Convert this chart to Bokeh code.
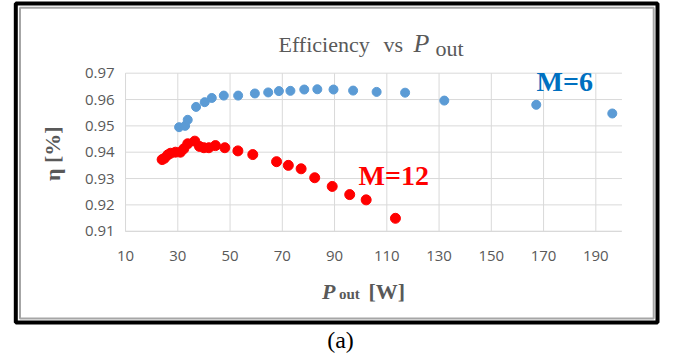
from bokeh.plotting import figure
from bokeh.models import Label, BoxAnnotation, Range1d, FixedTicker
from bokeh.embed import file_html
from bokeh.resources import INLINE
import math

# ---- data ----
m6_pout = [30.5, 32.8, 33.8, 37.0, 40.3, 43.0, 47.6, 53.1, 59.5, 64.6, 68.7,
           73.1, 78.4, 83.4, 89.6, 97.1, 106.1, 117.0, 132.0, 167.2, 196.3]
m6_eff = [0.9495, 0.9500, 0.9523, 0.9572, 0.9590, 0.9606, 0.9615, 0.9615, 0.9623,
          0.9627, 0.9632, 0.9633, 0.9638, 0.9639, 0.9638, 0.9634, 0.9629, 0.9626,
          0.9596, 0.9580, 0.9547]

m12_pout = [24.0, 24.9, 26.2, 27.2, 29.1, 31.0, 32.3, 33.8, 36.5, 38.3, 40.0, 41.9,
            44.4, 48.0, 53.0, 58.7, 67.8, 72.3, 77.2, 82.4, 89.1, 95.8, 102.1, 113.3]
m12_eff = [0.9372, 0.9377, 0.9390, 0.9396, 0.9400, 0.9400, 0.9413, 0.9432, 0.9442,
           0.9422, 0.9417, 0.9417, 0.9425, 0.9417, 0.9405, 0.9391, 0.9364, 0.9350,
           0.9337, 0.9303, 0.9270, 0.9239, 0.9219, 0.9149]

x_ticks = [10, 30, 50, 70, 90, 110, 130, 150, 170, 190]
y_ticks = [0.91, 0.92, 0.93, 0.94, 0.95, 0.96, 0.97]
y_tick_labels = ["0.91", "0.92", "0.93", "0.94", "0.95", "0.96", "0.97"]
x_limits = (10, 200)
y_limits = (0.91, 0.97)

GRAY = "#595959"
GRID = "#d9d9d9"
SERIF = "Liberation Serif"
SANS = "Open Sans"

W, H = 675, 360
# plot-area placement in canvas pixels
PL, PR, PT, PB = 125.05, 621.45, 72.7, 230.7
xs = (PR - PL) / (x_limits[1] - x_limits[0])
ys = (PB - PT) / (y_limits[1] - y_limits[0])
x_range = Range1d(x_limits[0] - PL / xs, x_limits[1] + (W - PR) / xs)
y_range = Range1d(y_limits[0] - (H - PB) / ys, y_limits[1] + PT / ys)

p = figure(width=W, height=H, x_range=x_range, y_range=y_range,
           output_backend="svg", toolbar_location=None, title=None,
           min_border=0, min_border_left=0, min_border_right=0,
           min_border_top=0, min_border_bottom=0)
p.outline_line_color = None
p.background_fill_color = "white"
p.border_fill_color = "white"
p.xgrid.visible = False
p.ygrid.visible = False

for ax in (p.xaxis[0], p.yaxis[0]):
    ax.axis_line_color = GRID
    ax.axis_line_width = 1
    ax.major_tick_line_color = None
    ax.minor_tick_line_color = None
    ax.major_tick_out = 0
    ax.major_tick_in = 0
    ax.major_label_text_font = SANS
    ax.major_label_text_font_size = "15px"
    ax.major_label_text_color = GRAY

p.xaxis.fixed_location = y_limits[0]
p.yaxis.fixed_location = x_limits[0]
p.xaxis.bounds = x_limits
p.yaxis.bounds = y_limits
p.xaxis.ticker = FixedTicker(ticks=x_ticks)
p.yaxis.ticker = FixedTicker(ticks=y_ticks)
p.yaxis.major_label_overrides = {t: l for t, l in zip(y_ticks, y_tick_labels)}
p.xaxis.major_label_standoff = 20
p.yaxis.major_label_standoff = 11

# gridlines
p.segment(x0=x_ticks, y0=[y_limits[0]] * len(x_ticks), x1=x_ticks,
          y1=[y_limits[1]] * len(x_ticks), line_color=GRID, line_width=1)
p.segment(x0=[x_limits[0]] * len(y_ticks), y0=y_ticks, x1=[x_limits[1]] * len(y_ticks),
          y1=y_ticks, line_color=GRID, line_width=1)

p.scatter(m6_pout, m6_eff, size=9, color="#5B9BD5")
p.scatter(m12_pout, m12_eff, size=10, color="#FF0000")

SHIFT = 0.38  # empirical baseline correction (fraction of font size)


def lab(text, x, y, size, color=GRAY, font=SERIF, style="normal", align="left",
        rotated=False):
    fs = float(size.replace("px", ""))
    if rotated:
        x = x - SHIFT * fs
    else:
        y = y - SHIFT * fs
    p.add_layout(Label(x=x, y=y, x_units="canvas", y_units="canvas", text=text,
                       text_font=font, text_font_size=size, text_color=color,
                       text_font_style=style, text_align=align, text_baseline="alphabetic",
                       angle=math.pi / 2 if rotated else 0.0))


# chart title
lab("Efficiency", 278, 52.5, "22px")
lab("vs", 383, 52.5, "22px")
lab("P", 413, 53, "26px", style="italic")
lab("out", 435, 56, "22px")

# x axis title
lab("P", 321.5, 299, "22px", style="bold italic")
lab("out", 338.5, 299, "15px", style="bold")
lab("[W]", 368, 299, "22px", style="bold")

# y axis title
lab("\u03b7  [%]", 60, 150.5, "22px", style="bold", align="center", rotated=True)

# series labels
lab("M=6", 536, 92, "28px", color="#0070C0", style="bold")
lab("M=12", 358, 186, "28px", color="#FF0000", style="bold")

# caption
lab("(a)", 340, 348.5, "24px", color="black", align="center")

# frame
p.add_layout(BoxAnnotation(left=15.3, right=657, top=3, bottom=322,
                           left_units="canvas", right_units="canvas",
                           top_units="canvas", bottom_units="canvas",
                           fill_alpha=0, line_color="black", line_alpha=1.0, line_width=4))
p.add_layout(BoxAnnotation(left=19.5, right=653.2, top=7.2, bottom=318,
                           left_units="canvas", right_units="canvas",
                           top_units="canvas", bottom_units="canvas",
                           fill_alpha=0, line_color="#a6a6a6", line_alpha=1.0, line_width=2))

open("out.html", "w").write(file_html(p, INLINE))
